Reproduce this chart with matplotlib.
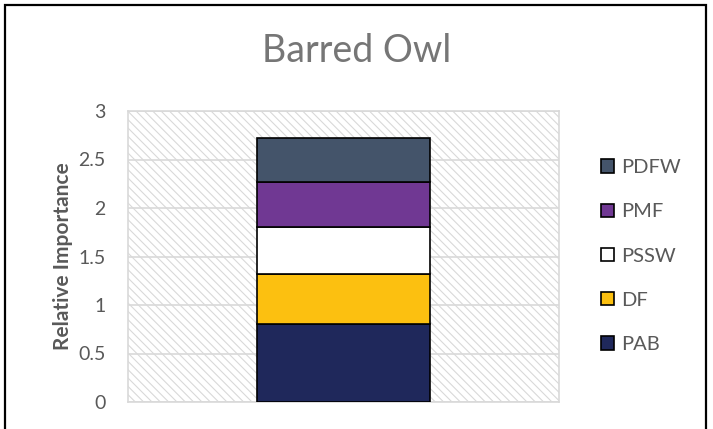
import matplotlib
matplotlib.use("Agg")
import matplotlib.pyplot as plt
from matplotlib.patches import Rectangle

# stacked components of relative importance (bottom to top)
categories = ["Barred Owl"]
series = ["PAB", "DF", "PSSW", "PMF", "PDFW"]
values = {
    "PAB": [0.80],
    "DF": [0.52],
    "PSSW": [0.48],
    "PMF": [0.47],
    "PDFW": [0.45],
}
colors = {
    "PAB": "#1f285b",
    "DF": "#fcc010",
    "PSSW": "#ffffff",
    "PMF": "#703893",
    "PDFW": "#44546a",
}
yticks = [0, 0.5, 1, 1.5, 2, 2.5, 3]

plt.rcParams["font.family"] = ["Lato", "DejaVu Sans"]
plt.rcParams["hatch.color"] = "#d9d9d9"
plt.rcParams["hatch.linewidth"] = 0.8

fig = plt.figure(figsize=(7.13, 4.29), dpi=100)
ax = fig.add_axes([128 / 713, 1 - 402 / 429, 431 / 713, 291 / 429])

# hatched plot area background
ax.add_patch(Rectangle((0, 0), 1, 1, transform=ax.transAxes, facecolor="white",
                       edgecolor="#d9d9d9", linewidth=0, hatch="\\\\\\\\",
                       zorder=0))

bottom = [0.0] * len(categories)
xpos = list(range(len(categories)))
for name in series:
    ax.bar(xpos, values[name], width=0.8, bottom=bottom, color=colors[name],
           edgecolor="black", linewidth=1.2, label=name, zorder=3)
    bottom = [b + v for b, v in zip(bottom, values[name])]

ax.set_xlim(-1, 1)
ax.set_ylim(0, 3)
ax.set_yticks(yticks)
ax.set_yticklabels([f"{t:g}" for t in yticks], fontsize=14, color="#595959")
ax.set_xticks([])
ax.tick_params(axis="y", length=0, pad=16)
ax.grid(axis="y", color="#d9d9d9", linewidth=1.2, zorder=1)
ax.set_axisbelow(True)
for s in ax.spines.values():
    s.set_color("#d9d9d9")
    s.set_linewidth(1.2)

ax.set_ylabel("Relative Importance", fontsize=15, fontweight="bold",
              color="#595959", labelpad=4)
fig.suptitle("Barred Owl", x=357 / 713, y=1 - 51 / 429, va="center",
             fontsize=27, color="#767676")

handles, labels = ax.get_legend_handles_labels()
leg = fig.legend(handles[::-1], labels[::-1], loc="center left",
                 bbox_to_anchor=(583 / 713, 1 - 256 / 429), frameon=False,
                 fontsize=14.5, labelcolor="#595959", handlelength=0.65,
                 handleheight=0.65, handletextpad=0.35, labelspacing=1.35)

# chart border
fig.add_artist(Rectangle((5 / 713, -0.05), 701 / 713, 1.05 - 5 / 429,
                         transform=fig.transFigure, facecolor="none",
                         edgecolor="black", linewidth=1.6, clip_on=False))

fig.savefig("out.png", dpi=100)
